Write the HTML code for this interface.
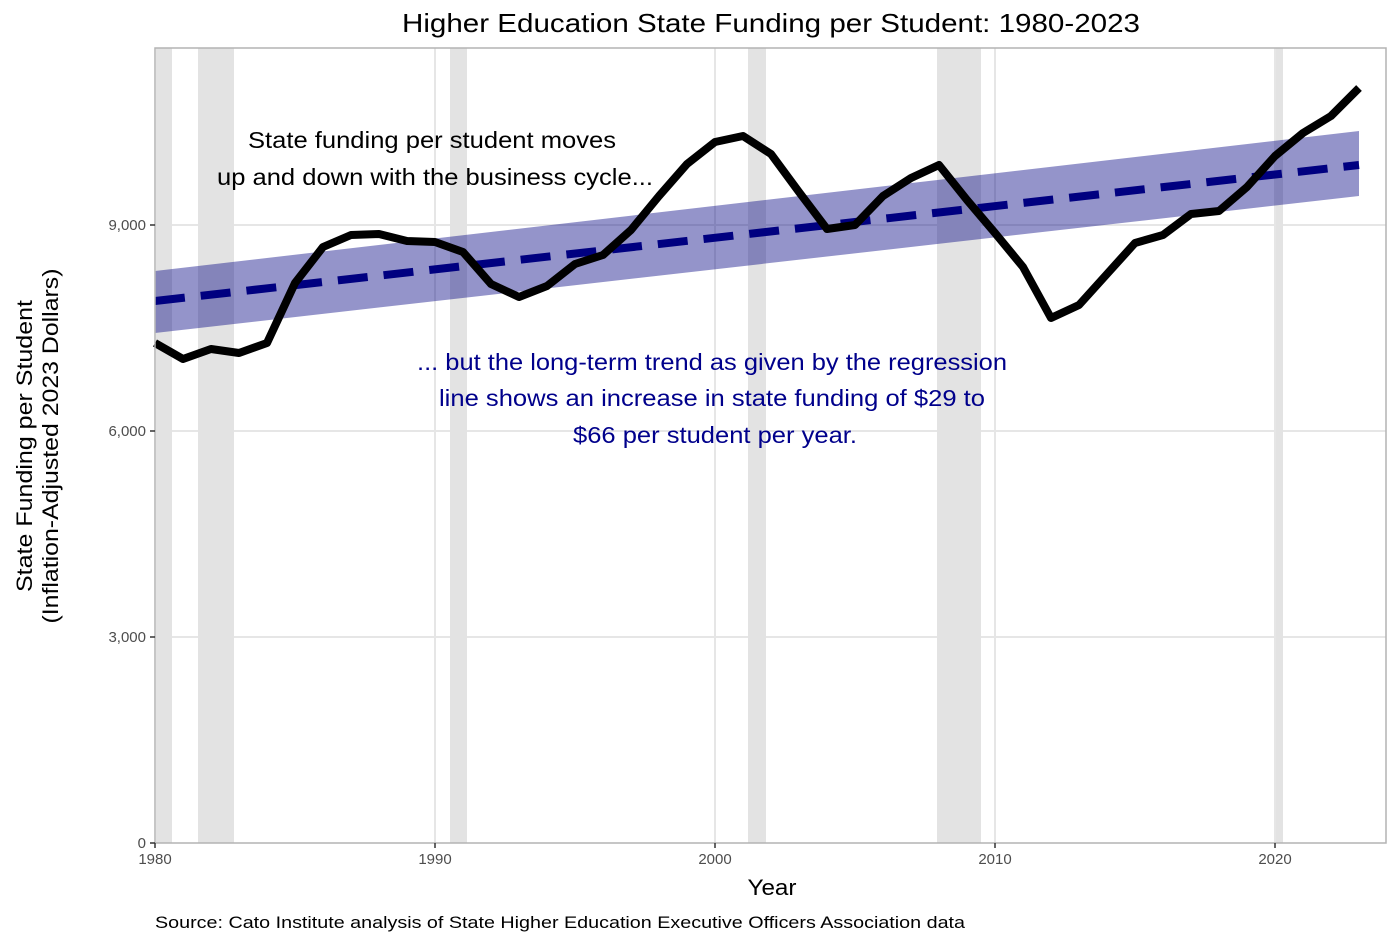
<!DOCTYPE html>
<html><head><meta charset="utf-8"><style>body{margin:0;background:#fff}svg{display:block;font-family:"Liberation Sans",Arial,sans-serif}</style></head><body>
<svg width="1400" height="944" viewBox="0 0 1400 944">
<rect width="1400" height="944" fill="#fff"/>
<text x="771" y="32" font-size="26" text-anchor="middle" fill="#000" textLength="738" lengthAdjust="spacingAndGlyphs">Higher Education State Funding per Student: 1980-2023</text>
<g stroke="#e6e6e6" stroke-width="2">
<line x1="155" x2="1386" y1="637" y2="637"/><line x1="155" x2="1386" y1="431" y2="431"/><line x1="155" x2="1386" y1="225" y2="225"/>
<line x1="435" x2="435" y1="48" y2="843"/><line x1="715" x2="715" y1="48" y2="843"/><line x1="995" x2="995" y1="48" y2="843"/><line x1="1275" x2="1275" y1="48" y2="843"/>
</g>
<g fill="#e3e3e3">
<rect x="156" y="48" width="16" height="795"/><rect x="198" y="48" width="36" height="795"/><rect x="450" y="48" width="17" height="795"/><rect x="748" y="48" width="18" height="795"/><rect x="937" y="48" width="44" height="795"/><rect x="1276" y="48" width="7" height="795"/>
</g>
<polygon points="155,271 1359,131 1359,196 155,333" fill="#000080" fill-opacity="0.42"/>
<line x1="155" y1="301" x2="1359" y2="165" stroke="#000080" stroke-width="8" stroke-dasharray="30,16"/>
<polyline fill="none" stroke="#000" stroke-width="8" stroke-linejoin="round" points="155,343 183,359 211,349 239,353 267,343 295,283 323,247 351,235 379,234 407,241 435,242 463,252 491,284 519,297 547,286 575,264 603,255 631,230 659,196 687,164 715,142 743,136 771,154 799,192 827,229 855,225 883,196 911,178 939,165 967,200 995,233 1023,267 1051,318 1079,305 1107,274 1135,243 1163,235 1191,214 1219,211 1247,187 1275,156 1303,133 1331,116 1359,88"/>
<rect x="155" y="48" width="1231" height="795" fill="none" stroke="#b3b3b3" stroke-width="1.5"/>
<text x="432" y="148" font-size="23" text-anchor="middle" textLength="368" lengthAdjust="spacingAndGlyphs">State funding per student moves</text>
<text x="435" y="185" font-size="23" text-anchor="middle" textLength="436" lengthAdjust="spacingAndGlyphs">up and down with the business cycle...</text>
<g fill="#00008b" font-size="23" text-anchor="middle">
<text x="712" y="370" textLength="590" lengthAdjust="spacingAndGlyphs">... but the long-term trend as given by the regression</text>
<text x="712" y="406" textLength="546" lengthAdjust="spacingAndGlyphs">line shows an increase in state funding of $29 to</text>
<text x="715" y="443" textLength="284" lengthAdjust="spacingAndGlyphs">$66 per student per year.</text>
</g>
<g font-size="15" fill="#4d4d4d" text-anchor="end">
<text x="146" y="848">0</text><text x="146" y="642">3,000</text><text x="146" y="436">6,000</text><text x="146" y="230">9,000</text>
</g>
<g stroke="#333" stroke-width="1.5">
<line x1="150" x2="155" y1="843" y2="843"/><line x1="150" x2="155" y1="637" y2="637"/><line x1="150" x2="155" y1="431" y2="431"/><line x1="150" x2="155" y1="225" y2="225"/>
<line x1="155" x2="155" y1="843" y2="848"/><line x1="435" x2="435" y1="843" y2="848"/><line x1="715" x2="715" y1="843" y2="848"/><line x1="995" x2="995" y1="843" y2="848"/><line x1="1275" x2="1275" y1="843" y2="848"/>
</g>
<g font-size="15" fill="#4d4d4d" text-anchor="middle">
<text x="155" y="864">1980</text><text x="435" y="864">1990</text><text x="715" y="864">2000</text><text x="995" y="864">2010</text><text x="1275" y="864">2020</text>
</g>
<text x="772" y="895" font-size="22" text-anchor="middle" textLength="49" lengthAdjust="spacingAndGlyphs">Year</text>
<text transform="translate(32,446) rotate(-90)" font-size="22" text-anchor="middle" textLength="292" lengthAdjust="spacingAndGlyphs">State Funding per Student</text>
<text transform="translate(58,446) rotate(-90)" font-size="22" text-anchor="middle" textLength="355" lengthAdjust="spacingAndGlyphs">(Inflation-Adjusted 2023 Dollars)</text>
<text x="155" y="928" font-size="17" textLength="810" lengthAdjust="spacingAndGlyphs">Source: Cato Institute analysis of State Higher Education Executive Officers Association data</text>
</svg>
</body></html>
